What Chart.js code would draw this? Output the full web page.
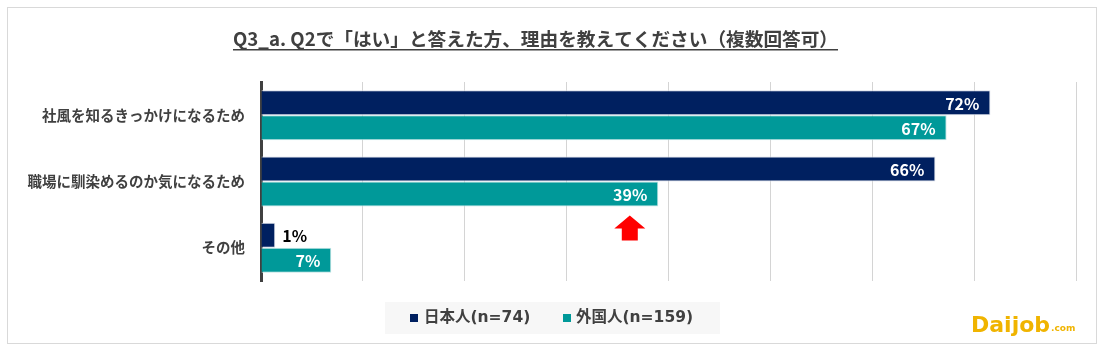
<!DOCTYPE html>
<html><head><meta charset="utf-8">
<script src="https://cdn.jsdelivr.net/npm/chart.js@4/dist/chart.umd.min.js"></script>
<style>html,body{margin:0;padding:0;background:#fff}#wrap{width:1106px;height:356px;position:relative}</style>
</head><body><div id="wrap"><canvas id="c" width="1106" height="356"></canvas></div>
<script>
const titleText = "Q3_a. Q2で「はい」と答えた方、理由を教えてください（複数回答可）";
const categories = ["社風を知るきっかけになるため", "職場に馴染めるのか気になるため", "その他"];
const seriesNames = ["日本人(n=74)", "外国人(n=159)"];
const japaneseValues = [71.6, 66.2, 1.4];
const foreignValues = [67.3, 39.0, 6.9];
const japaneseLabels = ["72%", "66%", "1%"];
const foreignLabels = ["67%", "39%", "7%"];
const xTicks = [0, 10, 20, 30, 40, 50, 60, 70, 80];
const arrowValue = 36.2;

const NAVY = "#002060", TEAL = "#009999", TXT = "#404040";
const FONT = '"Noto Sans CJK JP", "Noto Sans", sans-serif';
const MIXFONT = '"DejaVu Sans", "Noto Sans CJK JP", sans-serif';

const decor = {
  id: "decor",
  beforeDraw(chart) {
    const ctx = chart.ctx;
    ctx.save();
    ctx.fillStyle = "#fff";
    ctx.fillRect(0, 0, 1106, 356);
    ctx.strokeStyle = "#d9d9d9";
    ctx.lineWidth = 1;
    ctx.strokeRect(7.5, 7.5, 1089, 336);
    // title
    ctx.font = "bold 18px " + FONT;
    let w = ctx.measureText(titleText).width;
    const size = 18 * 605 / w;
    ctx.font = "bold " + size.toFixed(2) + "px " + FONT;
    w = ctx.measureText(titleText).width;
    ctx.fillStyle = TXT;
    ctx.textAlign = "center";
    ctx.textBaseline = "alphabetic";
    const cx = 535.5;
    ctx.fillText(titleText, cx, 46);
    ctx.fillRect(cx - w / 2, 49, w, 1.5);
    // legend box
    ctx.fillStyle = "#f7f7f7";
    ctx.fillRect(385, 302, 335, 32);
    ctx.font = "bold 15.5px " + MIXFONT;
    ctx.textAlign = "left";
    ctx.textBaseline = "middle";
    ctx.fillStyle = NAVY;
    ctx.fillRect(410, 314, 8, 8);
    ctx.fillStyle = TXT;
    ctx.fillText(seriesNames[0], 424, 318);
    ctx.fillStyle = TEAL;
    ctx.fillRect(563, 314, 8, 8);
    ctx.fillStyle = TXT;
    ctx.fillText(seriesNames[1], 576, 318);
    // logo
    ctx.fillStyle = "#f0b400";
    ctx.font = "bold 22px " + '"DejaVu Sans", sans-serif';
    ctx.textBaseline = "alphabetic";
    ctx.fillText("Daijob", 971, 332);
    const lw = ctx.measureText("Daijob").width;
    ctx.font = "bold 9px " + '"DejaVu Sans", sans-serif';
    ctx.fillText(".com", 971 + lw + 1, 331);
    ctx.restore();
  },
  afterDatasetsDraw(chart) {
    const ctx = chart.ctx;
    ctx.save();
    ctx.font = "bold 16px " + FONT;
    ctx.textBaseline = "middle";
    const sets = [japaneseLabels, foreignLabels];
    sets.forEach((labels, di) => {
      const meta = chart.getDatasetMeta(di);
      meta.data.forEach((bar, i) => {
        const v = chart.data.datasets[di].data[i];
        if (v < 4) {
          ctx.fillStyle = "#000";
          ctx.textAlign = "left";
          ctx.fillText(labels[i], bar.x + 7, bar.y + 1);
        } else {
          ctx.fillStyle = "#fff";
          ctx.textAlign = "right";
          ctx.fillText(labels[i], bar.x - 11, bar.y + 1);
        }
      });
    });
    // red arrow
    const ax = chart.scales.x.getPixelForValue(arrowValue);
    const yb = chart.getDatasetMeta(1).data[1];
    const top = yb.y + yb.height / 2 + 9;
    ctx.fillStyle = "#ff0000";
    ctx.beginPath();
    ctx.moveTo(ax, top);
    ctx.lineTo(ax + 15.5, top + 13);
    ctx.lineTo(ax + 8, top + 13);
    ctx.lineTo(ax + 8, top + 25);
    ctx.lineTo(ax - 8, top + 25);
    ctx.lineTo(ax - 8, top + 13);
    ctx.lineTo(ax - 15.5, top + 13);
    ctx.closePath();
    ctx.fill();
    ctx.restore();
  }
};

new Chart(document.getElementById("c"), {
  type: "bar",
  data: {
    labels: categories,
    datasets: [
      { label: seriesNames[0], data: japaneseValues, backgroundColor: NAVY, borderColor: "#d6dce8", borderWidth: 1, borderSkipped: "start" },
      { label: seriesNames[1], data: foreignValues, backgroundColor: TEAL, borderColor: "#bfe3e3", borderWidth: 1, borderSkipped: "start" }
    ]
  },
  options: {
    indexAxis: "y",
    responsive: false,
    animation: false,
    layout: { padding: { top: 82, right: 30, bottom: 75, left: 0 } },
    datasets: { bar: { categoryPercentage: 0.754, barPercentage: 1.0 } },
    plugins: { legend: { display: false }, title: { display: false }, tooltip: { enabled: false } },
    scales: {
      x: {
        min: 0, max: 80,
        afterBuildTicks(s) { s.ticks = xTicks.map(v => ({ value: v })); },
        afterFit(s) { s.height = 0; },
        ticks: { display: false },
        grid: { color: "#d4d4d4", lineWidth: 1, drawTicks: false },
        border: { display: false }
      },
      y: {
        afterFit(s) { s.width = 261; },
        ticks: { color: TXT, font: { family: FONT, size: 14.5, weight: "bold" }, padding: 16 },
        grid: { display: false, drawTicks: false },
        border: { display: true, color: "#404040", width: 3 }
      }
    }
  },
  plugins: [decor]
});
</script>
</body></html>
